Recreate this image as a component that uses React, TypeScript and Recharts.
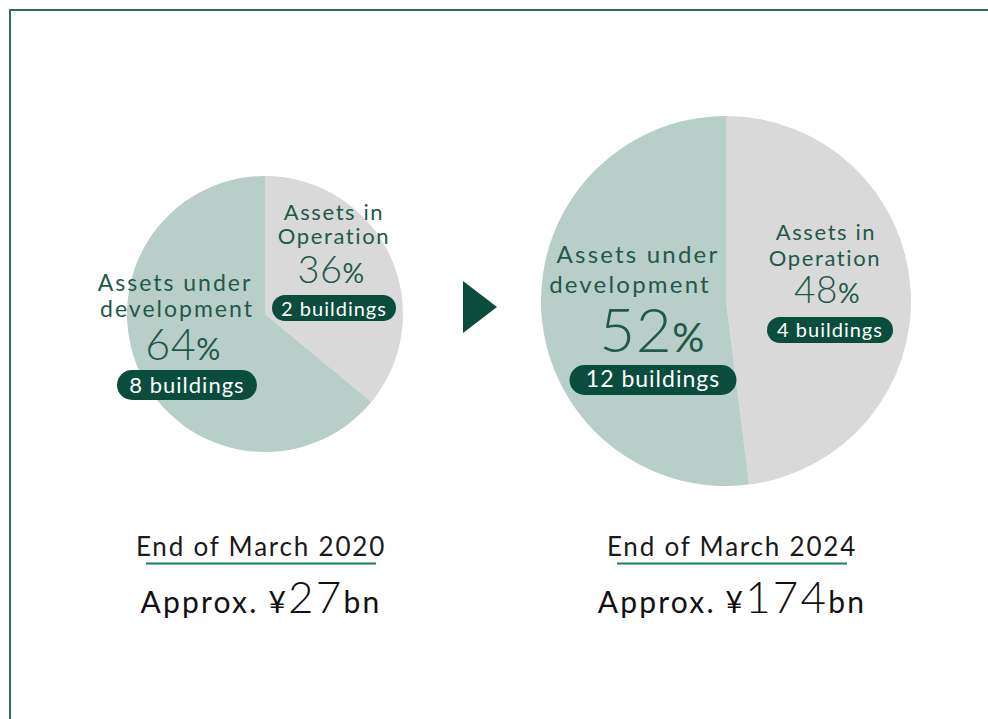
import React from "react";
import { PieChart, Pie, Cell } from "recharts";

const SEGMENTS = ["Assets in Operation", "Assets under development"];
const SEGMENT_LINES = [
  ["Assets in", "Operation"],
  ["Assets under", "development"],
];
const SHARE_2020 = [36, 64];
const SHARE_2024 = [48, 52];
const BUILDINGS_2020 = [2, 8];
const BUILDINGS_2024 = [4, 12];
const PERIODS = ["End of March 2020", "End of March 2024"];
const TOTALS_BN = [27, 174];

const FONT = "'Century Gothic', Lato, 'Noto Sans', sans-serif";
const SLICE_COLORS = ["#d9d9d9", "#b8cec9"];
const TEXT_GREEN = "#1f5a49";
const PILL_GREEN = "#0b4d3d";
const LINE_GREEN = "#1b7a62";
const BORDER_GREEN = "#2f6e5c";

const W = 988;
const H = 719;

// label offsets from each pie centre (px)
const LAYOUT_2020 = [
  {
    lines: [
      { dx: 69, dy: -94 },
      { dx: 69, dy: -70 },
    ],
    lineSize: 22,
    spacing: 1.6,
    pct: { dx: 66, dy: -31, big: 38, small: 27 },
    pill: { dx: 69, dy: -19, w: 124, h: 26, size: 20, tdy: 2 },
  },
  {
    lines: [
      { dx: -90, dy: -23 },
      { dx: -88, dy: 3 },
    ],
    lineSize: 23,
    spacing: 2,
    pct: { dx: -82, dy: 46, big: 43, small: 30 },
    pill: { dx: -78, dy: 56, w: 140, h: 30, size: 22, tdy: 79 },
  },
];

const LAYOUT_2024 = [
  {
    lines: [
      { dx: 100, dy: -61 },
      { dx: 99, dy: -35 },
    ],
    lineSize: 22,
    spacing: 1.6,
    pct: { dx: 101, dy: 2, big: 37, small: 27 },
    pill: { dx: 104, dy: 16, w: 126, h: 26, size: 20, tdy: 36 },
  },
  {
    lines: [
      { dx: -88, dy: -38 },
      { dx: -96, dy: -8 },
    ],
    lineSize: 24,
    spacing: 2.2,
    pct: { dx: -74, dy: 51, big: 62, small: 40 },
    pill: { dx: -73, dy: 64, w: 167, h: 30, size: 23, tdy: 86 },
  },
];

const makeData = (shares: number[], buildings: number[]) =>
  SEGMENTS.map((name, i) => ({
    name,
    value: shares[i],
    buildings: buildings[i],
  }));

const data2020 = makeData(SHARE_2020, BUILDINGS_2020);
const data2024 = makeData(SHARE_2024, BUILDINGS_2024);

const makeLabel = (layout: typeof LAYOUT_2020, fallback: { cx: number; cy: number }) =>
  (props: any) => {
    const i = props.index as number;
    const cx = props.cx ?? fallback.cx;
    const cy = props.cy ?? fallback.cy;
    const l = layout[i];
    const entry = props.payload?.payload ?? props.payload ?? {};
    const value = entry.value ?? props.value;
    const buildings = entry.buildings;
    return (
      <g key={`lbl-${i}`} style={{ fontFamily: FONT }}>
        <text
          textAnchor="middle"
          fill={TEXT_GREEN}
          fontSize={l.lineSize}
          letterSpacing={l.spacing}
        >
          {SEGMENT_LINES[i].map((line, j) => (
            <tspan key={j} x={cx + l.lines[j].dx} y={cy + l.lines[j].dy}>
              {line}
            </tspan>
          ))}
        </text>
        <text
          x={cx + l.pct.dx}
          y={cy + l.pct.dy}
          textAnchor="middle"
          fill={TEXT_GREEN}
          letterSpacing={0.5}
        >
          <tspan fontSize={l.pct.big} fontWeight={300}>{value}</tspan>
          <tspan fontSize={l.pct.small}>%</tspan>
        </text>
        <rect
          x={cx + l.pill.dx - l.pill.w / 2}
          y={cy + l.pill.dy}
          width={l.pill.w}
          height={l.pill.h}
          rx={l.pill.h / 2}
          fill={PILL_GREEN}
        />
        <text
          x={cx + l.pill.dx}
          y={cy + l.pill.tdy}
          textAnchor="middle"
          fill="#ffffff"
          fontSize={l.pill.size}
          letterSpacing={1}
        >
          {`${buildings} buildings`}
        </text>
      </g>
    );
  };

const PIE_2020 = { cx: 265, cy: 314, r: 138 };
const PIE_2024 = { cx: 726, cy: 301, r: 185 };
const CAPTION_X = [261, 732];

export default function App() {
  return (
    <div
      style={{
        position: "fixed",
        left: 0,
        top: 0,
        width: W,
        height: H,
        background: "#ffffff",
        overflow: "hidden",
        fontFamily: FONT,
      }}
    >
      <div
        style={{
          position: "absolute",
          left: 9,
          top: 9,
          width: W,
          height: H,
          borderTop: `2px solid ${BORDER_GREEN}`,
          borderLeft: `2px solid ${BORDER_GREEN}`,
        }}
      />
      <div style={{ position: "absolute", left: 0, top: 0 }}>
        <PieChart width={W} height={H} margin={{ top: 0, right: 0, bottom: 0, left: 0 }}>
          <Pie
            data={data2020}
            dataKey="value"
            nameKey="name"
            cx={PIE_2020.cx}
            cy={PIE_2020.cy}
            outerRadius={PIE_2020.r}
            startAngle={90}
            endAngle={-270}
            stroke="none"
            labelLine={false}
            label={makeLabel(LAYOUT_2020, PIE_2020)}
            isAnimationActive={false}
          >
            {data2020.map((d, i) => (
              <Cell key={d.name} fill={SLICE_COLORS[i]} />
            ))}
          </Pie>
          <Pie
            data={data2024}
            dataKey="value"
            nameKey="name"
            cx={PIE_2024.cx}
            cy={PIE_2024.cy}
            outerRadius={PIE_2024.r}
            startAngle={90}
            endAngle={-270}
            stroke="none"
            labelLine={false}
            label={makeLabel(LAYOUT_2024, PIE_2024)}
            isAnimationActive={false}
          >
            {data2024.map((d, i) => (
              <Cell key={d.name} fill={SLICE_COLORS[i]} />
            ))}
          </Pie>
        </PieChart>
      </div>
      <svg
        width={W}
        height={H}
        style={{ position: "absolute", left: 0, top: 0, pointerEvents: "none" }}
      >
        <polygon points="463,281 463,333 497,307" fill={PILL_GREEN} />
        {PERIODS.map((p, i) => (
          <g key={p} style={{ fontFamily: FONT }}>
            <text
              x={CAPTION_X[i]}
              y={556}
              textAnchor="middle"
              fontSize={26}
              fill="#1a1a1a"
              letterSpacing={1.8}
            >
              {p}
            </text>
            <line
              x1={CAPTION_X[i] - 115}
              x2={CAPTION_X[i] + 115}
              y1={563.5}
              y2={563.5}
              stroke={LINE_GREEN}
              strokeWidth={2}
            />
            <text
              x={CAPTION_X[i]}
              y={613}
              textAnchor="middle"
              fill="#111111"
              letterSpacing={2.2}
            >
              <tspan fontSize={30}>Approx. ¥</tspan>
              <tspan fontSize={44} fontWeight={300}>{TOTALS_BN[i]}</tspan>
              <tspan fontSize={30}>bn</tspan>
            </text>
          </g>
        ))}
      </svg>
    </div>
  );
}
